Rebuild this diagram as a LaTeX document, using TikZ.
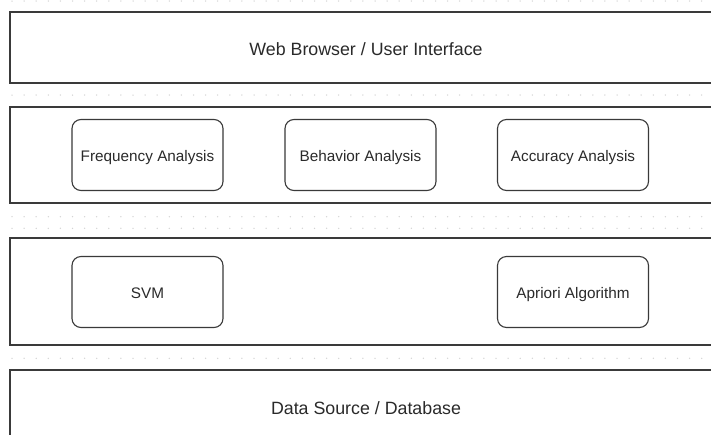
\documentclass[tikz,border=0pt]{standalone}
\usepackage{fontspec}
\setmainfont{Liberation Sans}
\definecolor{edge}{HTML}{3A3A3A}
\definecolor{ink}{HTML}{2A2A2A}
\definecolor{griddot}{HTML}{D4D4D4}
\tikzset{
  layer/.style={draw=edge, line width=1.4pt, fill=white, rectangle, inner sep=0pt,
    text=ink, text height=15.6pt, text depth=0pt,
    font=\fontsize{17.8}{20}\selectfont},
  module/.style={draw=edge, line width=1.1pt, fill=white, rectangle, rounded corners=9pt,
    minimum width=151pt, minimum height=71pt, inner sep=0pt, text=ink,
    text height=13pt, text depth=0pt,
    font=\fontsize{15.3}{17}\selectfont},
}
\begin{document}
\begin{tikzpicture}[x=1pt, y=-1pt]
\useasboundingbox (0,0) rectangle (711,434);
\clip (0,0) rectangle (711,434);
\fill[white] (0,0) rectangle (711,434);
% background grid dots
\foreach \yy in {1,95,216.7,228.3,358.3}{
  \foreach \i in {0,...,58}{
    \fill[griddot] (12+12.1*\i,\yy) circle (0.75pt);
  }
}
% layers
\node[layer, minimum width=712pt, minimum height=71pt] (ui) at (366,47.5) {Web Browser / User Interface};
\node[layer, minimum width=712pt, minimum height=96pt] (analysis) at (366,155) {};
\node[layer, minimum width=712pt, minimum height=107pt] (algo) at (366,291.5) {};
\node[layer, minimum width=712pt, minimum height=74pt] (data) at (366,407) {Data Source / Database};
% modules
\node[module] (freq) at (147.5,155) {Frequency Analysis};
\node[module] (behav) at (360.5,155) {Behavior Analysis};
\node[module] (acc) at (573,155) {Accuracy Analysis};
\node[module] (svm) at (147.5,292) {SVM};
\node[module] (apriori) at (573,292) {Apriori Algorithm};
\end{tikzpicture}
\end{document}
